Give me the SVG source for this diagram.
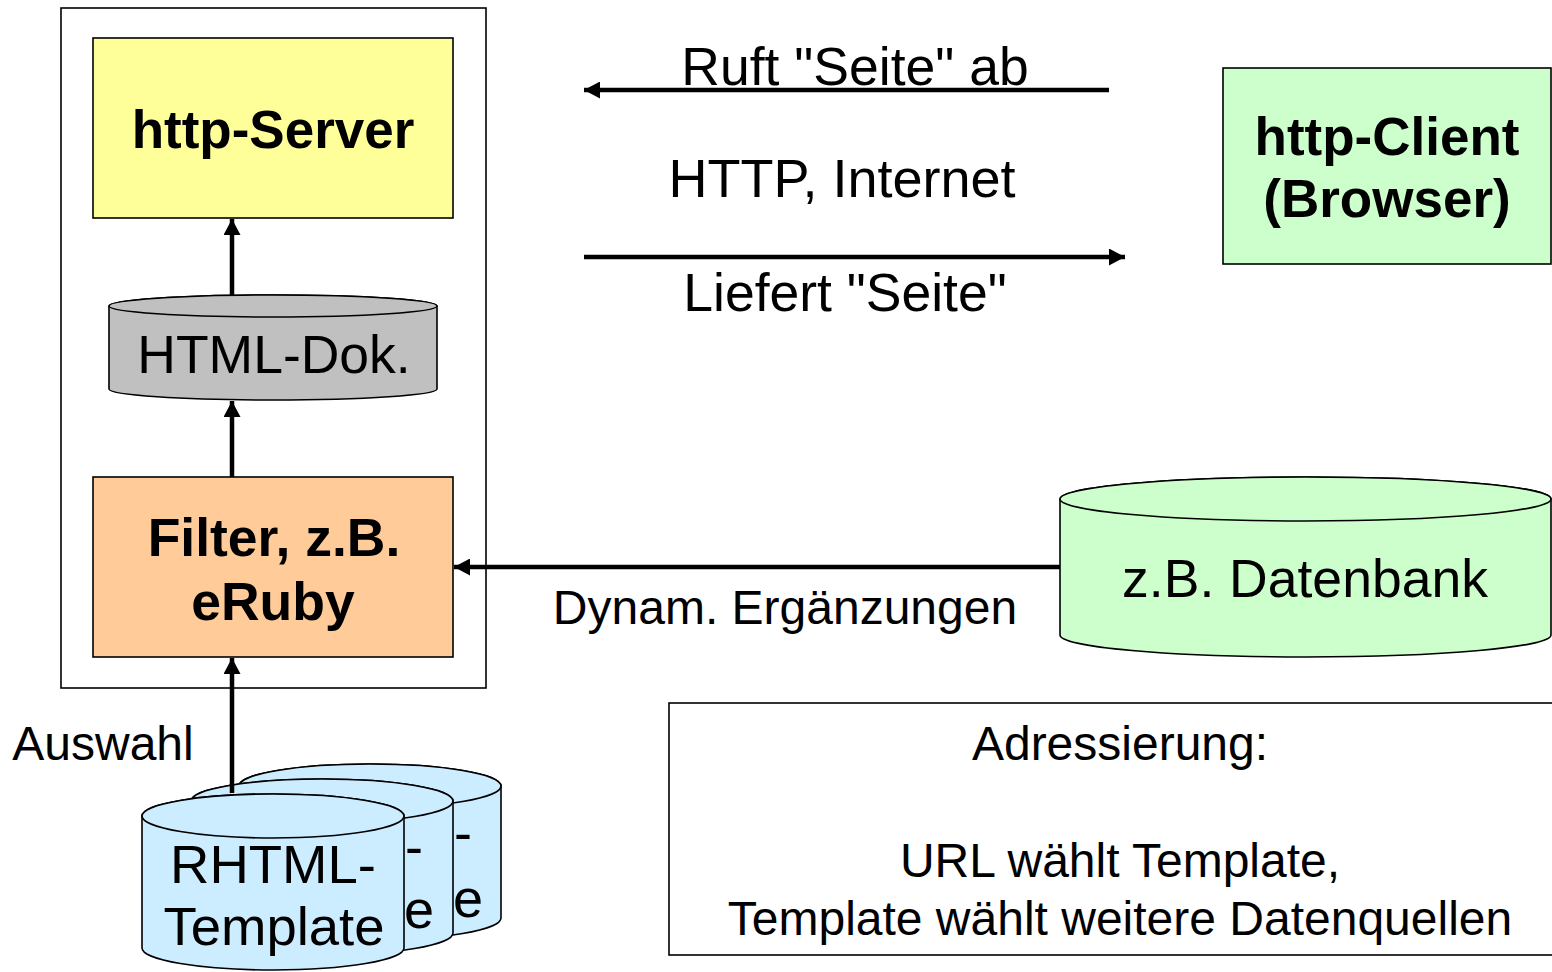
<svg xmlns="http://www.w3.org/2000/svg" width="1552" height="972" viewBox="0 0 1552 972">
<defs>
<style>
.t{font-family:"Liberation Sans",Arial,sans-serif;fill:#000;text-anchor:middle}
.s{text-anchor:start}
.b{font-weight:bold}
.box{stroke:#000;stroke-width:1.6}
.ln{stroke:#000;stroke-width:4.5;fill:none}
</style>
<marker id="ah" markerUnits="userSpaceOnUse" markerWidth="17" markerHeight="17" refX="16" refY="8.5" orient="auto">
<path d="M0,0 L16,8.5 L0,17 z" fill="#000"/>
</marker>
</defs>
<rect width="1552" height="972" fill="#fff"/>
<g id="frame"><rect class="box" x="61" y="8" width="425" height="680" fill="#fff"/></g>
<g id="http-server">
<rect class="box" x="93" y="38" width="360" height="180" fill="#FFFF99"/>
<text class="t b" x="273" y="148" font-size="53">http-Server</text>
</g>
<g id="html-dok">
<path class="box" d="M109,306 V389 A164,11 0 0 0 437,389 V306 A164,11 0 0 0 109,306 z" fill="#C0C0C0"/>
<ellipse class="box" cx="273" cy="306" rx="164" ry="11" fill="#C0C0C0"/>
<text class="t" x="274" y="373" font-size="53.5">HTML-Dok.</text>
</g>
<g id="filter">
<rect class="box" x="93" y="477" width="360" height="180" fill="#FFCC99"/>
<text class="t b" x="274" y="556" font-size="53.5">Filter, z.B.</text>
<text class="t b" x="273" y="620" font-size="53.5">eRuby</text>
</g>
<g id="http-client">
<rect class="box" x="1223" y="68" width="328" height="196" fill="#CCFFCC"/>
<text class="t b" x="1387" y="155" font-size="53">http-Client</text>
<text class="t b" x="1387" y="217" font-size="53">(Browser)</text>
</g>
<g id="datenbank">
<path class="box" d="M1060,499 V635 A245.5,22 0 0 0 1551,635 V499 A245.5,22 0 0 0 1060,499 z" fill="#CCFFCC"/>
<ellipse class="box" cx="1305.5" cy="499" rx="245.5" ry="22" fill="#CCFFCC"/>
<text class="t" x="1305" y="597" font-size="53.5">z.B. Datenbank</text>
</g>
<g id="template-3">
<path class="box" d="M239,786 V918 A131,22 0 0 0 501,918 V786 A131,22 0 0 0 239,786 z" fill="#CCECFF"/>
<ellipse class="box" cx="370" cy="786" rx="131" ry="22" fill="#CCECFF"/>
<text class="t s" x="454" y="851" font-size="54">-</text>
<text class="t s" x="453" y="917" font-size="54">e</text>
</g>
<g id="template-2">
<path class="box" d="M191,801 V933 A131,22 0 0 0 453,933 V801 A131,22 0 0 0 191,801 z" fill="#CCECFF"/>
<ellipse class="box" cx="322" cy="801" rx="131" ry="22" fill="#CCECFF"/>
<text class="t s" x="405" y="865" font-size="54">-</text>
<text class="t s" x="404" y="928" font-size="54">e</text>
</g>
<g id="template-1">
<path class="box" d="M142,816 V948 A131,22 0 0 0 404,948 V816 A131,22 0 0 0 142,816 z" fill="#CCECFF"/>
<ellipse class="box" cx="273" cy="816" rx="131" ry="22" fill="#CCECFF"/>
<text class="t" x="273" y="883" font-size="54.5">RHTML-</text>
<text class="t" x="274" y="945" font-size="54.5">Template</text>
</g>
<g id="adressierung">
<rect class="box" x="669" y="703" width="900" height="252" fill="#fff"/>
<text class="t" x="1120" y="760" font-size="48">Adressierung:</text>
<text class="t" x="1120" y="877" font-size="48">URL wählt Template,</text>
<text class="t" x="1120" y="935" font-size="48">Template wählt weitere Datenquellen</text>
</g>
<g id="connectors">
<line class="ln" x1="232" y1="295" x2="232" y2="219" marker-end="url(#ah)"/>
<line class="ln" x1="232" y1="477" x2="232" y2="401" marker-end="url(#ah)"/>
<line class="ln" x1="232" y1="793" x2="232" y2="658" marker-end="url(#ah)"/>
<line class="ln" x1="1109" y1="90" x2="584" y2="90" marker-end="url(#ah)"/>
<line class="ln" x1="584" y1="257" x2="1125" y2="257" marker-end="url(#ah)"/>
<line class="ln" x1="1060" y1="567" x2="454" y2="567" marker-end="url(#ah)"/>
</g>
<g id="labels">
<text class="t" x="855" y="85" font-size="53.5">Ruft "Seite" ab</text>
<text class="t" x="842" y="197" font-size="54">HTTP, Internet</text>
<text class="t" x="845" y="311" font-size="53.5">Liefert "Seite"</text>
<text class="t" x="785" y="624" font-size="48">Dynam. Ergänzungen</text>
<text class="t" x="103" y="760" font-size="48">Auswahl</text>
</g>
</svg>
